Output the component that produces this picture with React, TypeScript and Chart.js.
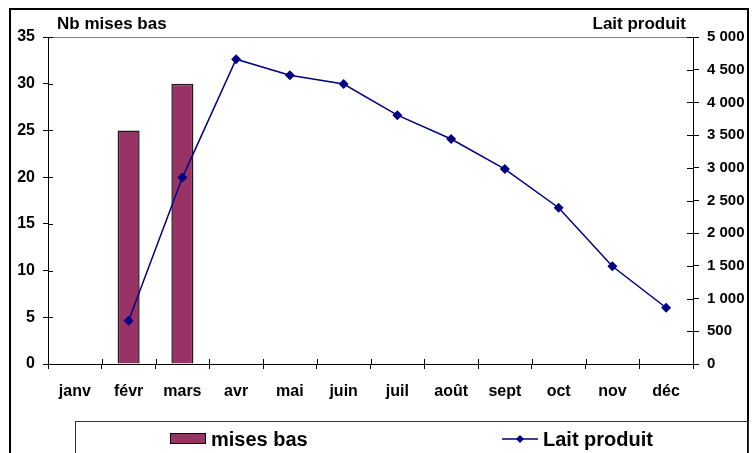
import React, { useEffect, useRef } from "react";
import { Chart, registerables } from "chart.js";

Chart.register(...registerables);

const months = ["janv", "févr", "mars", "avr", "mai", "juin", "juil", "août", "sept", "oct", "nov", "déc"];
const misesBas = [null, 25, 30, null, null, null, null, null, null, null, null, null];
const laitProduit = [null, 660, 2850, 4660, 4415, 4280, 3805, 3440, 2980, 2390, 1495, 860];
const leftTitle = "Nb mises bas";
const rightTitle = "Lait produit";
const barLabel = "mises bas";
const lineLabel = "Lait produit";

const BAR_COLOR = "#993366";
const LINE_COLOR = "#000080";
const FONT = "'Liberation Sans', Arial, sans-serif";

function fmt(v: number): string {
  if (v >= 1000) {
    return `${Math.floor(v / 1000)} ${String(v % 1000).padStart(3, "0")}`;
  }
  return String(v);
}

const decorPlugin = {
  id: "decor",
  afterDraw(chart: any) {
    const ctx = chart.ctx as CanvasRenderingContext2D;
    const ca = chart.chartArea;
    const x = chart.scales.x;
    const y = chart.scales.y;
    const y1 = chart.scales.y1;
    ctx.save();
    // top border of plot
    ctx.strokeStyle = "#808080";
    ctx.lineWidth = 1;
    ctx.beginPath();
    ctx.moveTo(ca.left, ca.top + 0.5);
    ctx.lineTo(ca.right, ca.top + 0.5);
    ctx.stroke();
    // inner tick halves
    ctx.strokeStyle = "#000";
    ctx.beginPath();
    y.ticks.forEach((t: any) => {
      const py = Math.round(y.getPixelForValue(t.value)) + 0.5;
      ctx.moveTo(ca.left, py);
      ctx.lineTo(ca.left + 5, py);
    });
    y1.ticks.forEach((t: any) => {
      const py = Math.round(y1.getPixelForValue(t.value)) + 0.5;
      ctx.moveTo(ca.right - 6, py);
      ctx.lineTo(ca.right, py);
    });
    const half = (x.getPixelForValue(1) - x.getPixelForValue(0)) / 2;
    for (let i = 0; i <= months.length; i++) {
      const px = Math.round(x.getPixelForValue(i) - half) + 0.5;
      ctx.moveTo(px, ca.bottom - 5);
      ctx.lineTo(px, ca.bottom);
    }
    ctx.stroke();

    // axis titles
    ctx.fillStyle = "#000";
    ctx.font = `bold 17px ${FONT}`;
    ctx.textBaseline = "alphabetic";
    ctx.textAlign = "left";
    ctx.fillText(leftTitle, 57, 29);
    ctx.textAlign = "right";
    ctx.fillText(rightTitle, 686, 29);

    // outer border
    ctx.lineWidth = 2;
    ctx.strokeStyle = "#000";
    ctx.strokeRect(10, 9, 738, 470);

    // legend box
    ctx.lineWidth = 1;
    ctx.strokeStyle = "#333";
    ctx.strokeRect(75.5, 421.5, 673, 60);

    // legend items
    ctx.fillStyle = BAR_COLOR;
    ctx.fillRect(170, 433, 36, 11);
    ctx.strokeStyle = "#000";
    ctx.strokeRect(170.5, 433.5, 35, 10);
    ctx.fillStyle = "#000";
    ctx.font = `bold 20px ${FONT}`;
    ctx.textAlign = "left";
    ctx.fillText(barLabel, 211, 446);

    ctx.strokeStyle = LINE_COLOR;
    ctx.lineWidth = 1.5;
    ctx.beginPath();
    ctx.moveTo(502, 439);
    ctx.lineTo(538, 439);
    ctx.stroke();
    ctx.fillStyle = LINE_COLOR;
    ctx.beginPath();
    ctx.moveTo(520, 435);
    ctx.lineTo(524, 439);
    ctx.lineTo(520, 443);
    ctx.lineTo(516, 439);
    ctx.closePath();
    ctx.fill();
    ctx.fillStyle = "#000";
    ctx.fillText(lineLabel, 543, 446);
    ctx.restore();
  },
};

export default function App() {
  const ref = useRef<HTMLCanvasElement | null>(null);
  useEffect(() => {
    if (!ref.current) return;
    const chart = new Chart(ref.current, {
      type: "bar",
      data: {
        labels: months,
        datasets: [
          {
            type: "line",
            label: lineLabel,
            data: laitProduit,
            yAxisID: "y1",
            borderColor: LINE_COLOR,
            backgroundColor: LINE_COLOR,
            borderWidth: 1.5,
            pointStyle: "rectRot",
            pointRadius: 5,
            pointBackgroundColor: LINE_COLOR,
            pointBorderColor: LINE_COLOR,
            pointBorderWidth: 0,
            spanGaps: true,
            order: 0,
          } as any,
          {
            type: "bar",
            label: barLabel,
            data: misesBas,
            yAxisID: "y",
            backgroundColor: BAR_COLOR,
            borderColor: "#1a1a1a",
            borderWidth: 1.5,
            barPercentage: 0.41,
            categoryPercentage: 1,
            order: 1,
          } as any,
        ],
      },
      options: {
        responsive: false,
        maintainAspectRatio: false,
        animation: false,
        layout: { padding: { left: 0, right: 0, top: 37, bottom: 0 } },
        plugins: {
          legend: { display: false },
          tooltip: { enabled: false },
          title: { display: false },
        },
        scales: {
          x: {
            offset: true,
            grid: { offset: true, drawOnChartArea: false, tickLength: 5, color: "#000" },
            border: { color: "#000", width: 1 },
            ticks: {
              color: "#000",
              font: { family: FONT, size: 16, weight: "bold" },
              padding: 13,
              maxRotation: 0,
              autoSkip: false,
            },
            afterFit: (s: any) => {
              s.height = 89;
            },
          },
          y: {
            position: "left",
            min: 0,
            max: 35,
            ticks: {
              stepSize: 5,
              color: "#000",
              font: { family: FONT, size: 16, weight: "bold" },
              padding: 8,
            },
            grid: { drawOnChartArea: false, tickLength: 5, color: "#000" },
            border: { color: "#000", width: 1 },
            afterFit: (s: any) => {
              s.width = 48;
            },
          },
          y1: {
            position: "right",
            min: 0,
            max: 5000,
            ticks: {
              stepSize: 500,
              color: "#000",
              font: { family: FONT, size: 15, weight: "bold" },
              padding: 8,
              callback: (v: any) => fmt(Number(v)),
            },
            grid: { drawOnChartArea: false, tickLength: 6, color: "#000" },
            border: { color: "#000", width: 1 },
            afterFit: (s: any) => {
              s.width = 61;
            },
          },
        },
      },
      plugins: [decorPlugin],
    });
    return () => chart.destroy();
  }, []);
  return (
    <div style={{ position: "absolute", left: 0, top: 0, width: 754, height: 453, background: "#fff" }}>
      <canvas ref={ref} width={754} height={453} style={{ display: "block" }} />
    </div>
  );
}
